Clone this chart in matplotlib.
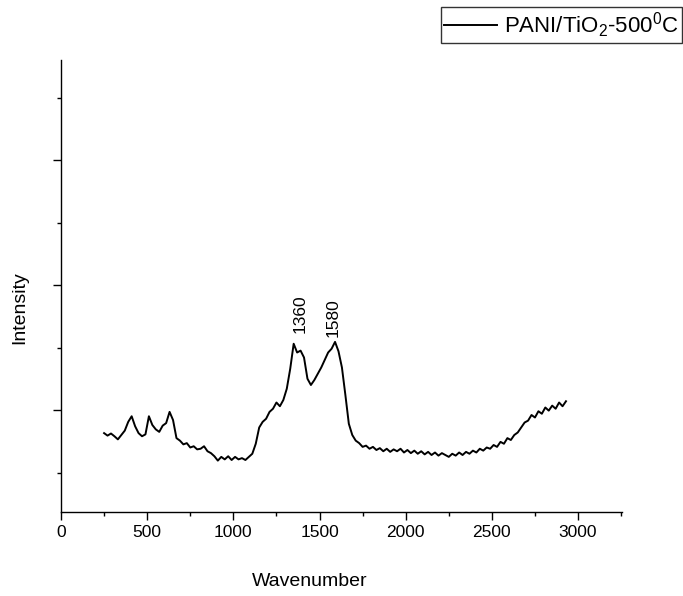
import matplotlib
matplotlib.use("Agg")
import matplotlib.pyplot as plt
from matplotlib.ticker import MultipleLocator, NullFormatter

plt.rcParams["font.family"] = ["Liberation Sans", "DejaVu Sans"]
plt.rcParams["mathtext.fontset"] = "custom"
plt.rcParams["mathtext.rm"] = "Liberation Sans"
plt.rcParams["mathtext.it"] = "Liberation Sans:italic"

# Raman spectrum (wavenumber, intensity a.u.)
wavenumber = [
    250, 270, 290, 310, 330, 350, 370, 390, 410, 430, 450, 470, 490, 510,
    530, 550, 570, 590, 610, 630, 650, 670, 690, 710, 730, 750, 770, 790,
    810, 830, 850, 870, 890, 910, 930, 950, 970, 990, 1010, 1030, 1050, 1070,
    1090, 1110, 1130, 1150, 1170, 1190, 1210, 1230, 1250, 1270, 1290, 1310,
    1330, 1350, 1370, 1390, 1410, 1430, 1450, 1470, 1490, 1510, 1530, 1550,
    1570, 1590, 1610, 1630, 1650, 1670, 1690, 1710, 1730, 1750, 1770, 1790,
    1810, 1830, 1850, 1870, 1890, 1910, 1930, 1950, 1970, 1990, 2010, 2030,
    2050, 2070, 2090, 2110, 2130, 2150, 2170, 2190, 2210, 2230, 2250, 2270,
    2290, 2310, 2330, 2350, 2370, 2390, 2410, 2430, 2450, 2470, 2490, 2510,
    2530, 2550, 2570, 2590, 2610, 2630, 2650, 2670, 2690, 2710, 2730, 2750,
    2770, 2790, 2810, 2830, 2850, 2870, 2890, 2910, 2930,
]
intensity = [
    815, 795, 812, 790, 765, 800, 835, 905, 950, 870, 815, 790, 805, 950,
    880, 845, 825, 875, 895, 985, 920, 775, 755, 725, 735, 700, 710, 685,
    690, 710, 670, 655, 630, 595, 625, 605, 630, 600, 625, 605, 615, 600,
    625, 650, 730, 860, 905, 930, 985, 1010, 1060, 1030, 1080, 1170,
    1330, 1530, 1460, 1475, 1420, 1250, 1200, 1240, 1290, 1340, 1400, 1460,
    1490, 1545, 1470, 1340, 1120, 890, 800, 755, 735, 705, 715, 690,
    705, 680, 695, 670, 690, 665, 685, 670, 690, 660, 680, 655,
    675, 650, 670, 645, 665, 640, 660, 635, 655, 640, 625, 650,
    635, 660, 640, 665, 650, 675, 660, 690, 675, 700, 690, 720,
    705, 745, 730, 775, 760, 800, 820, 860, 900, 915, 960, 940,
    990, 970, 1020, 995, 1035, 1010, 1060, 1030, 1070,
]

peak_labels = ["1360", "1580"]
peak_x = [1386, 1577]
peak_y = [1616, 1584]

series_label = r"PANI/TiO$_2$-500$^0$C"

fig = plt.figure(figsize=(6.83, 5.96), dpi=100)
ax = fig.add_axes([61 / 683, 84 / 596, 561 / 683, 452 / 596])

ax.plot(wavenumber, intensity, color="black", lw=1.4, label=series_label)

for lab, px, py in zip(peak_labels, peak_x, peak_y):
    ax.text(px, py, lab, rotation=90, ha="center", va="bottom", fontsize=12.5)

ax.set_xlim(0, 3255)
ax.set_ylim(184, 3800)

ax.xaxis.set_major_locator(MultipleLocator(500))
ax.xaxis.set_minor_locator(MultipleLocator(250))
ax.yaxis.set_major_locator(MultipleLocator(1000))
ax.yaxis.set_minor_locator(MultipleLocator(500))
ax.yaxis.set_major_formatter(NullFormatter())

for side in ["top", "right"]:
    ax.spines[side].set_visible(False)
for side in ["left", "bottom"]:
    ax.spines[side].set_linewidth(1.0)

ax.tick_params(axis="x", which="major", direction="out", length=5.5, width=1.0,
               labelsize=12.5, pad=4)
ax.tick_params(axis="x", which="minor", direction="out", length=3, width=1.0)
ax.tick_params(axis="y", which="major", direction="out", length=6, width=1.0)
ax.tick_params(axis="y", which="minor", direction="out", length=3, width=1.0)

fig.text(310 / 683, 1 - 582 / 596, "Wavenumber", fontsize=14, ha="center", va="center")
fig.text(20 / 683, 1 - 308 / 596, "Intensity", fontsize=14, ha="center", va="center",
         rotation=90)

leg = fig.legend(loc="upper right", bbox_to_anchor=(682 / 683, 1 - 7 / 596),
                 fontsize=16, frameon=True, fancybox=False, borderaxespad=0,
                 handlelength=2.4, handletextpad=0.3, borderpad=0.15)
leg.get_frame().set_edgecolor("black")
leg.get_frame().set_linewidth(1.0)

fig.savefig("out.png", dpi=100)
